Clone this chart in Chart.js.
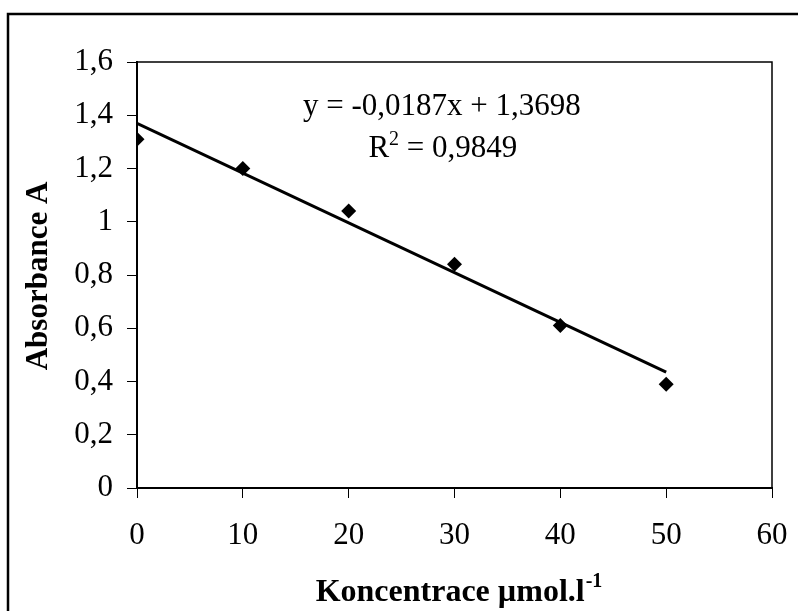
<!DOCTYPE html>
<html>
<head>
<meta charset="utf-8">
<script src="https://cdn.jsdelivr.net/npm/chart.js@4/dist/chart.umd.min.js"></script>
<style>
  html, body { margin: 0; padding: 0; background: #fff; }
  #c { display: block; }
</style>
</head>
<body>
<canvas id="c" width="798" height="611"></canvas>
<script>
// ---- data ----
const concentrations = [0, 10, 20, 30, 40, 50];
const absorbance = [1.31, 1.20, 1.04, 0.84, 0.61, 0.39];
const trendX = [0, 50];
const trendY = [1.37, 0.435];
const xTickLabels = ['0', '10', '20', '30', '40', '50', '60'];
const yTickLabels = ['0', '0,2', '0,4', '0,6', '0,8', '1', '1,2', '1,4', '1,6'];
const equationText = 'y = -0,0187x + 1,3698';
const r2Label = 'R';
const r2Sup = '2';
const r2Value = ' = 0,9849';
const xTitleMain = 'Koncentrace \u00b5mol.l';
const xTitleSup = '-1';
const yTitle = 'Absorbance A';

const FONT = "'Liberation Serif', 'Times New Roman', serif";

const framePlugin = {
  id: 'frame',
  beforeDraw(chart) {
    const ctx = chart.ctx;
    ctx.save();
    ctx.fillStyle = '#fff';
    ctx.fillRect(0, 0, chart.width, chart.height);
    ctx.strokeStyle = '#000';
    ctx.lineWidth = 2.5;
    ctx.strokeRect(8, 14, 900, 900);
    ctx.restore();
  },
  afterDraw(chart) {
    const ctx = chart.ctx;
    const a = chart.chartArea;
    const xs = chart.scales.x, ys = chart.scales.y;
    ctx.save();
    // plot area border (top & right)
    ctx.strokeStyle = '#000';
    ctx.lineWidth = 1.5;
    ctx.beginPath();
    ctx.moveTo(a.left, a.top);
    ctx.lineTo(a.right, a.top);
    ctx.lineTo(a.right, a.bottom);
    ctx.stroke();

    // equation annotations
    ctx.fillStyle = '#000';
    ctx.textBaseline = 'alphabetic';
    ctx.font = '31px ' + FONT;
    const ex = xs.getPixelForValue(28.8);
    const ey = ys.getPixelForValue(1.438);
    ctx.textAlign = 'center';
    ctx.fillText(equationText, ex, ey + 10);

    // R^2 line
    const rx = xs.getPixelForValue(28.9);
    const ry = ys.getPixelForValue(1.281) + 10;
    ctx.textAlign = 'left';
    ctx.font = '31px ' + FONT;
    const wR = ctx.measureText(r2Label).width;
    const wV = ctx.measureText(r2Value).width;
    ctx.font = '20px ' + FONT;
    const wS = ctx.measureText(r2Sup).width;
    let sx = rx - (wR + wS + wV) / 2;
    ctx.font = '31px ' + FONT;
    ctx.fillText(r2Label, sx, ry);
    ctx.font = '20px ' + FONT;
    ctx.fillText(r2Sup, sx + wR, ry - 12);
    ctx.font = '31px ' + FONT;
    ctx.fillText(r2Value, sx + wR + wS, ry);

    // x axis title
    ctx.font = 'bold 32px ' + FONT;
    const wM = ctx.measureText(xTitleMain).width;
    ctx.font = 'bold 20px ' + FONT;
    const wXs = ctx.measureText(xTitleSup).width;
    const cx = (a.left + a.right) / 2 + 4;
    let tx = cx - (wM + wXs) / 2;
    const tb = 601;
    ctx.font = 'bold 32px ' + FONT;
    ctx.fillText(xTitleMain, tx, tb);
    ctx.font = 'bold 20px ' + FONT;
    ctx.fillText(xTitleSup, tx + wM + 1, tb - 14);

    // y axis title
    ctx.translate(39, (a.top + a.bottom) / 2 + 1);
    ctx.rotate(-Math.PI / 2);
    ctx.font = 'bold 31px ' + FONT;
    ctx.textAlign = 'center';
    ctx.textBaseline = 'middle';
    ctx.fillText(yTitle, 0, 0);
    ctx.restore();
  }
};

const scatterData = concentrations.map((x, i) => ({ x: x, y: absorbance[i] }));
const trendData = trendX.map((x, i) => ({ x: x, y: trendY[i] }));

new Chart(document.getElementById('c'), {
  type: 'scatter',
  data: {
    datasets: [
      {
        label: 'Trend',
        data: trendData,
        showLine: true,
        borderColor: '#000',
        borderWidth: 3,
        pointRadius: 0,
        fill: false
      },
      {
        label: 'Absorbance',
        data: scatterData,
        pointStyle: 'rectRot',
        pointRadius: 7.5,
        pointBackgroundColor: '#000',
        pointBorderColor: '#000',
        pointBorderWidth: 0,
        showLine: false
      }
    ]
  },
  options: {
    responsive: false,
    animation: false,
    devicePixelRatio: 1,
    layout: { padding: { top: 62, right: 26, bottom: 0, left: 0 } },
    plugins: { legend: { display: false }, tooltip: { enabled: false } },
    scales: {
      x: {
        type: 'linear',
        min: 0, max: 60,
        afterFit(scale) { scale.height = 123; scale.paddingLeft = 0; scale.paddingRight = 0; },
        border: { display: true, color: '#000', width: 2 },
        grid: { display: true, drawOnChartArea: false, drawTicks: true, tickLength: 10, color: '#000', lineWidth: 1 },
        ticks: {
          stepSize: 10,
          padding: 19,
          color: '#000',
          font: { family: FONT, size: 31 },
          maxRotation: 0,
          callback: (v, i) => xTickLabels[i]
        }
      },
      y: {
        type: 'linear',
        min: 0, max: 1.6,
        afterFit(scale) { scale.width = 137; scale.paddingTop = 0; scale.paddingBottom = 0; },
        border: { display: true, color: '#000', width: 2 },
        grid: { display: true, drawOnChartArea: false, drawTicks: true, tickLength: 10, color: '#000', lineWidth: 1 },
        ticks: {
          stepSize: 0.2,
          padding: 14,
          color: '#000',
          font: { family: FONT, size: 31 },
          callback: (v, i) => yTickLabels[i]
        }
      }
    }
  },
  plugins: [framePlugin]
});
</script>
</body>
</html>
